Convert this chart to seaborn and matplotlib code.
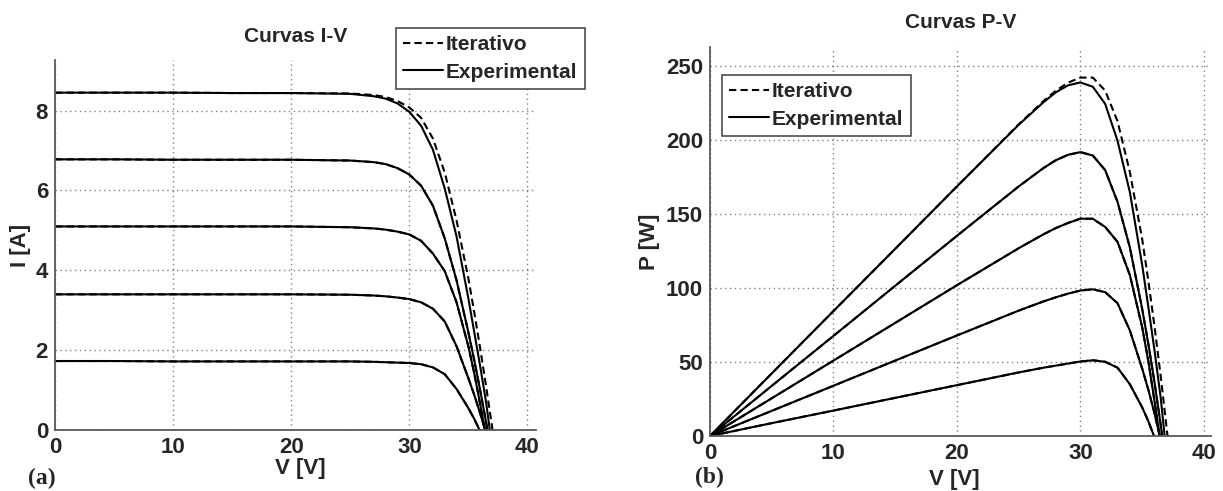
import matplotlib
matplotlib.use("Agg")
import matplotlib.pyplot as plt
from matplotlib.lines import Line2D
import seaborn as sns

# voltage grid shared by all curves (V)
volts = [0, 5, 10, 15, 20, 25, 27, 28, 29, 30, 31, 32, 33, 34, 35, 35.5, 36, 36.5, 37, 37.5]

# I-V curves, experimental (A), one list per irradiance level
i_exp_1 = [8.45, 8.45, 8.45, 8.44, 8.44, 8.42, 8.36, 8.30, 8.18, 7.97, 7.62, 7.02, 6.05, 4.85, 3.30, 2.45, 1.60, 0.70, -0.40, -1.50]
i_exp_2 = [6.78, 6.78, 6.77, 6.77, 6.77, 6.75, 6.71, 6.66, 6.56, 6.40, 6.12, 5.62, 4.80, 3.75, 2.45, 1.75, 1.00, 0.20, -0.65, -1.50]
i_exp_3 = [5.10, 5.10, 5.10, 5.10, 5.10, 5.08, 5.05, 5.02, 4.97, 4.90, 4.74, 4.42, 3.98, 3.20, 2.10, 1.42, 0.65, -0.15, -1.00, -1.85]
i_exp_4 = [3.40, 3.40, 3.40, 3.40, 3.40, 3.39, 3.37, 3.35, 3.32, 3.28, 3.20, 3.04, 2.72, 2.10, 1.30, 0.88, 0.42, -0.08, -0.60, -1.10]
i_exp_5 = [1.73, 1.73, 1.72, 1.72, 1.72, 1.72, 1.71, 1.70, 1.69, 1.68, 1.65, 1.57, 1.40, 1.03, 0.55, 0.28, -0.03, -0.30, -0.60, -0.90]

# iterative model: only the top curve departs visibly from the measurements
i_it_1 = [8.45, 8.45, 8.45, 8.44, 8.44, 8.43, 8.39, 8.34, 8.24, 8.08, 7.82, 7.30, 6.45, 5.25, 3.80, 2.95, 2.05, 1.10, 0.10, -0.90]

# P-V curves (W)
p_exp_1 = [0, 42.3, 84.5, 126.6, 168.8, 210.5, 225.7, 232.4, 237.2, 239.1, 236.2, 224.6, 199.7, 164.9, 115.5, 87.0, 57.6, 25.6, -14.8, -56.3]
p_exp_2 = [0, 33.9, 67.7, 101.6, 135.4, 168.8, 181.2, 186.5, 190.2, 192.0, 189.7, 179.8, 158.4, 127.5, 85.8, 62.1, 36.0, 7.3, -24.1, -56.3]
p_exp_3 = [0, 25.5, 51.0, 76.5, 102.0, 127.0, 136.4, 140.6, 144.1, 147.0, 146.9, 141.4, 131.3, 108.8, 73.5, 50.4, 23.4, -5.5, -37.0, -69.4]
p_exp_4 = [0, 17.0, 34.0, 51.0, 68.0, 84.8, 91.0, 93.8, 96.3, 98.4, 99.2, 97.3, 89.8, 71.4, 45.5, 31.2, 15.1, -2.9, -22.2, -41.3]
p_exp_5 = [0, 8.7, 17.2, 25.8, 34.4, 43.0, 46.2, 47.6, 49.0, 50.4, 51.2, 50.2, 46.2, 35.0, 19.3, 9.9, -1.1, -11.0, -22.2, -33.8]
p_it_1 = [0, 42.3, 84.5, 126.6, 168.8, 210.8, 226.5, 233.5, 239.0, 242.4, 242.4, 233.6, 212.9, 178.5, 133.0, 104.7, 73.8, 40.2, 3.7, -33.8]

i_exp = [i_exp_1, i_exp_2, i_exp_3, i_exp_4, i_exp_5]
i_it = [i_it_1, i_exp_2, i_exp_3, i_exp_4, i_exp_5]
p_exp = [p_exp_1, p_exp_2, p_exp_3, p_exp_4, p_exp_5]
p_it = [p_it_1, p_exp_2, p_exp_3, p_exp_4, p_exp_5]

labels = ["Iterativo", "Experimental"]

sns.set_style("white")
plt.rcParams["font.family"] = ["Liberation Sans", "DejaVu Sans"]
plt.rcParams["font.weight"] = "bold"

fig = plt.figure(figsize=(12.23, 4.91), dpi=100)
ax1 = fig.add_axes([0.045, 0.124, 0.393, 0.754])
ax2 = fig.add_axes([0.5805, 0.112, 0.410, 0.792])


def draw(ax, it_list, exp_list):
    for y in it_list:
        sns.lineplot(x=volts, y=y, ax=ax, color="black", lw=1.5,
                     linestyle=(0, (3.5, 2)), sort=False, estimator=None)
    for y in exp_list:
        sns.lineplot(x=volts, y=y, ax=ax, color="black", lw=1.5,
                     sort=False, estimator=None)


def style(ax):
    ax.grid(True, linestyle=(0, (1, 2.5)), color="0.5", lw=1.0)
    for s in ["top", "right"]:
        ax.spines[s].set_visible(False)
    for s in ["left", "bottom"]:
        ax.spines[s].set_color("0.35")
        ax.spines[s].set_linewidth(1.3)
    ax.tick_params(direction="in", length=4, width=1, color="0.35",
                   labelsize=16, pad=5)
    for t in ax.get_xticklabels() + ax.get_yticklabels():
        t.set_fontweight("bold")


draw(ax1, i_it, i_exp)
ax1.set_xlim(0, 40.7)
ax1.set_ylim(0, 9.27)
ax1.set_xticks([0, 10, 20, 30, 40])
ax1.set_yticks([0, 2, 4, 6, 8])
style(ax1)
ax1.set_title("Curvas I-V", fontsize=15, fontweight="bold", pad=13)
ax1.set_xlabel("V [V]", fontsize=16, fontweight="bold")
ax1.set_ylabel("I [A]", fontsize=16, fontweight="bold")
ax1.xaxis.set_label_coords(0.51, -0.075)
ax1.yaxis.set_label_coords(-0.05, 0.5)

draw(ax2, p_it, p_exp)
ax2.set_xlim(0, 40.6)
ax2.set_ylim(0, 263)
ax2.set_xticks([0, 10, 20, 30, 40])
ax2.set_yticks([0, 50, 100, 150, 200, 250])
style(ax2)
ax2.set_title("Curvas P-V", fontsize=15, fontweight="bold", pad=14)
ax2.set_xlabel("V [V]", fontsize=16, fontweight="bold")
ax2.set_ylabel("P [W]", fontsize=16, fontweight="bold")
ax2.xaxis.set_label_coords(0.487, -0.085)
ax2.yaxis.set_label_coords(-0.10, 0.5)

handles = [Line2D([], [], color="black", lw=1.5, linestyle=(0, (3.5, 2))),
           Line2D([], [], color="black", lw=1.5)]
leg_kw = dict(loc="upper left", bbox_transform=fig.transFigure, frameon=True,
              fancybox=False, edgecolor="0.3", framealpha=1, borderpad=0.35,
              handlelength=1.9, handletextpad=0.15, labelspacing=0.4,
              borderaxespad=0, prop=dict(weight="bold", size=15))
lg1 = ax1.legend(handles, labels, bbox_to_anchor=(396 / 1223, 1 - 28 / 491), **leg_kw)
lg2 = ax2.legend(handles, labels, bbox_to_anchor=(722 / 1223, 1 - 75 / 491), **leg_kw)
for lg in (lg1, lg2):
    lg.get_frame().set_linewidth(1.2)

fig.text(28 / 1223, 1 - 478 / 491, "(a)", family="Liberation Serif",
         fontweight="bold", fontsize=17, va="center")
fig.text(695 / 1223, 1 - 477 / 491, "(b)", family="Liberation Serif",
         fontweight="bold", fontsize=17, va="center")

fig.savefig("out.png", dpi=100)
